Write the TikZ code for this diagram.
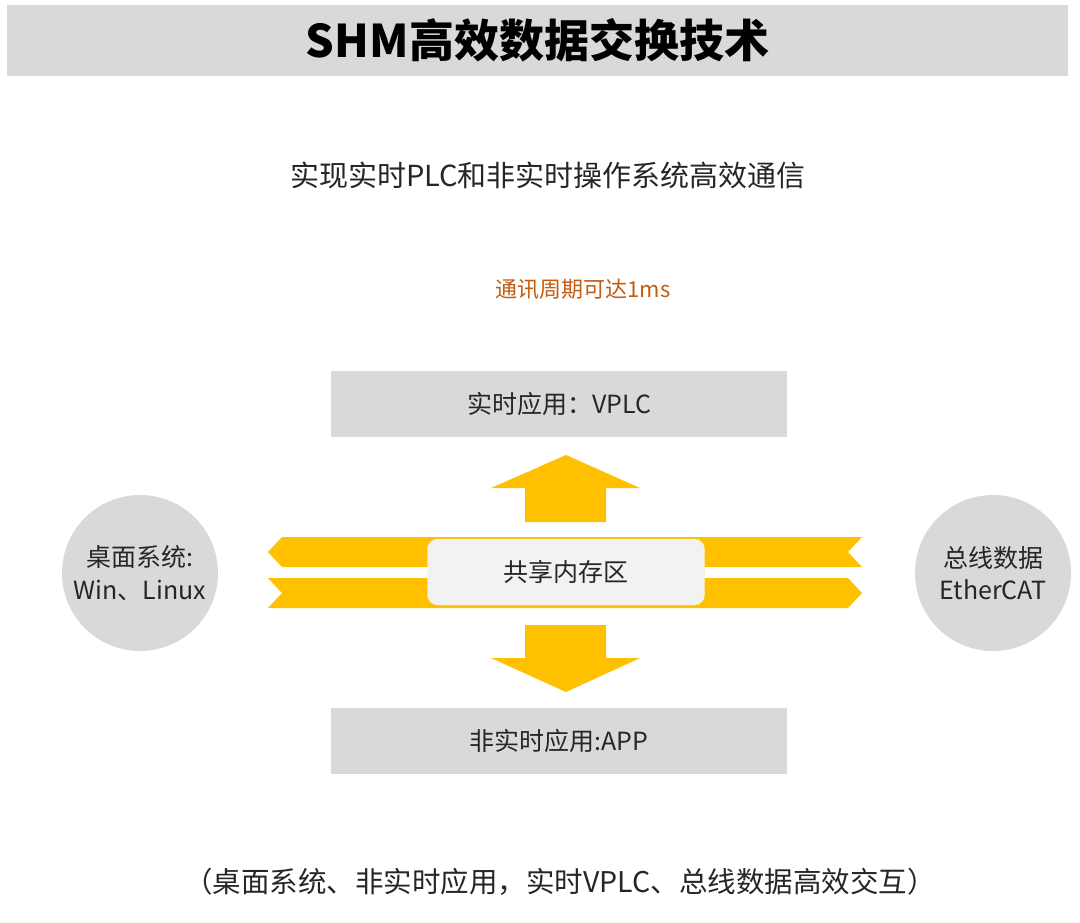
\documentclass[tikz,border=0pt]{standalone}
\usepackage{fontspec}
\setmainfont{Noto Sans CJK SC}
\usetikzlibrary{positioning}
\definecolor{barGray}{HTML}{D9D9D9}
\definecolor{memGray}{HTML}{F2F2F2}
\definecolor{flowGold}{HTML}{FFC000}
\definecolor{noteOrange}{HTML}{C55A11}

\begin{document}
\begin{tikzpicture}[
    x=1pt, y=-1pt,
    appbox/.style={rectangle, fill=barGray, minimum width=456pt, minimum height=66pt, text=black!85, font=\fontsize{25}{28}\selectfont},
    sysnode/.style={circle, fill=barGray, minimum size=156pt, align=center, text=black!85, font=\fontsize{25}{32}\selectfont},
    flow/.style={fill=flowGold}
]
    \useasboundingbox (0,0) rectangle (1080,922);
    \node[fill=barGray, minimum width=1061pt, minimum height=71pt, font=\bfseries\fontsize{45}{50}\selectfont] (title) at (537.5,40.5) {SHM高效数据交换技术};
    \node[font=\fontsize{29}{34}\selectfont, text=black!85] (sub) at (548,175) {实现实时PLC和非实时操作系统高效通信};
    \node[font=\fontsize{22}{26}\selectfont, text=noteOrange] (note) at (583,289) {通讯周期可达1ms};
    \node[appbox] (vplc) at (559,404) {实时应用：VPLC};
    \node[appbox] (app) at (559,741) {非实时应用:APP};
    \node[sysnode] (desk) at (140,573) {\raisebox{-4pt}{桌面系统:}\\[-1pt]\raisebox{-6pt}{Win、Linux}};
    \node[sysnode] (bus) at (993,573) {总线数据\\EtherCAT};
    % shared memory flows
    \fill[flow] (268,552) -- (282,537) -- (862,537) -- (848,552) -- (862,567) -- (282,567) -- cycle;
    \fill[flow] (268,578) -- (848,578) -- (862,593) -- (848,608) -- (268,608) -- (282,593) -- cycle;
    \fill[flow] (566,455) -- (640,488) -- (606,488) -- (606,522) -- (525,522) -- (525,488) -- (491,488) -- cycle;
    \fill[flow] (525,625) -- (606,625) -- (606,658) -- (640,658) -- (566,692) -- (491,658) -- (525,658) -- cycle;
    \node[rectangle, rounded corners=10pt, fill=memGray, draw=flowGold!35, minimum width=277pt, minimum height=66pt, text=black!85, font=\fontsize{25}{28}\selectfont] (shm) at (566,572) {共享内存区};
    \node[font=\fontsize{28.5}{32}\selectfont, text=black!85] (summary) at (560,882) {（桌面系统、非实时应用，实时VPLC、总线数据高效交互）};
\end{tikzpicture}
\end{document}
